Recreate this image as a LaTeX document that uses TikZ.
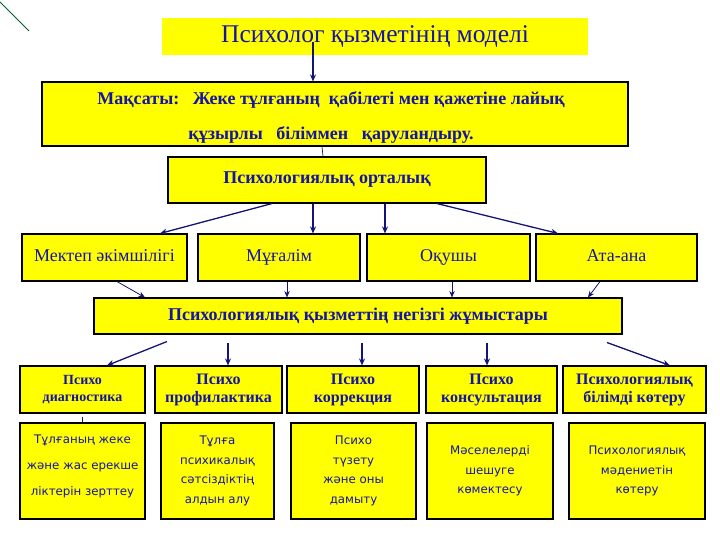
\documentclass[tikz,border=0pt]{standalone}
\usepackage{fontspec}
\setmainfont{Liberation Serif}
\newfontfamily\vsans{DejaVu Sans}
\usetikzlibrary{arrows.meta,calc}
\definecolor{ink}{RGB}{20,20,165}
\definecolor{arrc}{RGB}{20,20,120}
\definecolor{yel}{RGB}{255,255,0}
\definecolor{grn}{RGB}{0,100,40}
\begin{document}
\begin{tikzpicture}[x=1pt,y=-1pt,
  box/.style={draw=black, line width=1.1pt, fill=yel, inner sep=0pt, text=ink, align=center},
  plainbox/.style={fill=yel, inner sep=0pt, text=ink, align=center},
  hdr/.style={font=\fontsize{18}{35}\selectfont\bfseries},
  mid/.style={font=\fontsize{18}{20}\selectfont, text height=12.5pt, text depth=4pt},
  subhdr/.style={font=\fontsize{16}{18}\selectfont\bfseries},
  small/.style={font=\vsans\fontsize{11.8}{19.7}\selectfont},
  arrA/.style={draw=arrc, line width=1.3pt, -{Stealth[length=7pt,width=6pt]}},
  arrB/.style={draw=arrc, line width=0.8pt, -{Stealth[length=6.5pt,width=5.5pt]}},
  thin/.style={draw=arrc, line width=0.7pt}]
\useasboundingbox (0,0) rectangle (720,540);
\draw[grn, line width=0.8pt] (0,2) -- (29,31);

% title
\node[plainbox, minimum width=426, minimum height=37, font=\fontsize{25.5}{28}\selectfont] (title) at (375,36.5) {Психолог қызметінің моделі};
% goal
\node[box, hdr, minimum width=586, minimum height=64] (goal) at (335,114) {};
\node[text=ink, hdr, align=center, inner sep=0pt] at (331,118)
  {Мақсаты:\ \ \ Жеке тұлғаның\ \ қабілеті мен қажетіне лайық\\құзырлы\ \ \ біліммен\ \ \ қаруландыру.};
% centre
\node[box, font=\fontsize{18}{20}\selectfont\bfseries, minimum width=318, minimum height=46] (ctr) at (327,180) {Психологиялық орталық};
% row 2
\node[box, mid, minimum width=165, minimum height=47] (mek) at (104.5,257.5) {Мектеп әкімшілігі};
\node[box, mid, minimum width=162, minimum height=47] (mug) at (279,257.5) {Мұғалім};
\node[box, mid, minimum width=163, minimum height=47] (oqu) at (448.5,257.5) {Оқушы};
\node[box, mid, minimum width=161, minimum height=47] (ata) at (616.5,257.5) {Ата-ана};
% main
\node[box, font=\fontsize{18}{20}\selectfont\bfseries, minimum width=528, minimum height=36] (main) at (358,316) {Психологиялық қызметтің негізгі жұмыстары};
% row 3
\node[box, font=\fontsize{14}{17}\selectfont\bfseries, minimum width=125, minimum height=47] (d1) at (82.5,389.5) {Психо\\диагностика};
\node[box, subhdr, minimum width=127, minimum height=47] (d2) at (218.5,389.5) {Психо\\профилактика};
\node[box, subhdr, minimum width=132, minimum height=47] (d3) at (353,389.5) {Психо\\коррекция};
\node[box, subhdr, minimum width=131, minimum height=47] (d4) at (491.5,389.5) {Психо\\консультация};
\node[box, subhdr, minimum width=143, minimum height=47] (d5) at (634.5,389.5) {Психологиялық\\білімді көтеру};
% row 4
\node[box, minimum width=125, minimum height=96] (t1) at (82.5,471) {};
\node[text=ink, align=center, inner sep=0pt, font=\vsans\fontsize{11.8}{26}\selectfont] at (82.5,466) {Тұлғаның жеке\\және жас ерекше\\ліктерін зерттеу};
\node[box, small, minimum width=113, minimum height=96] (t2) at (217.5,471) {Тұлға\\психикалық\\сәтсіздіктің\\алдын алу};
\node[box, small, minimum width=125, minimum height=96] (t3) at (353.5,471) {Психо\\түзету\\және оны\\дамыту};
\node[box, small, minimum width=126, minimum height=96] (t4) at (490,471) {Мәселелерді\\шешуге\\көмектесу};
\node[box, small, minimum width=136, minimum height=96] (t5) at (637,471) {Психологиялық\\мәдениетін\\көтеру};

% connectors
\draw[arrA] ($(title.center)+(-62,6)$) -- ($(goal.north)+(-22,0)$);
\draw[thin] ($(goal.south)+(-13,0)$) -- ($(ctr.north)+(-4,0)$);
\draw[arrA] ($(ctr.south)+(-55,0)$) -- ($(mek.north)+(55.5,0)$);
\draw[arrA] ($(ctr.south)+(-14,0)$) -- ($(mug.north)+(34,0)$);
\draw[arrA] ($(ctr.south)+(58,0)$) -- ($(oqu.north)+(-63.5,0)$);
\draw[arrA] ($(ctr.south)+(110,0)$) -- ($(ata.north)+(-58.5,0)$);
\draw[arrB] ($(mek.south)+(12.5,0)$) -- ($(main.north)+(-213,0)$);
\draw[arrB] ($(mug.south)+(8,0)$) -- ($(main.north)+(-71,0)$);
\draw[arrB] ($(oqu.south)+(3.5,0)$) -- ($(main.north)+(94,0)$);
\draw[arrB] ($(ata.south)+(-16.5,0)$) -- ($(main.north)+(230,0)$);
\draw[arrA] ($(main.south)+(-191,7)$) -- ($(d1.north)+(24.5,0)$);
\draw[arrA] ($(main.south)+(-130,8)$) -- ($(d2.north)+(9.5,0)$);
\draw[arrA] ($(main.south)+(4,8)$) -- ($(d3.north)+(9,0)$);
\draw[arrA] ($(main.south)+(129,8)$) -- ($(d4.north)+(-4.5,0)$);
\draw[arrA] ($(main.south)+(249,8)$) -- ($(d5.north)+(35.5,0)$);
\draw[thin] ($(d1.south)+(0,3)$) -- (t1.north);
\end{tikzpicture}
\end{document}
